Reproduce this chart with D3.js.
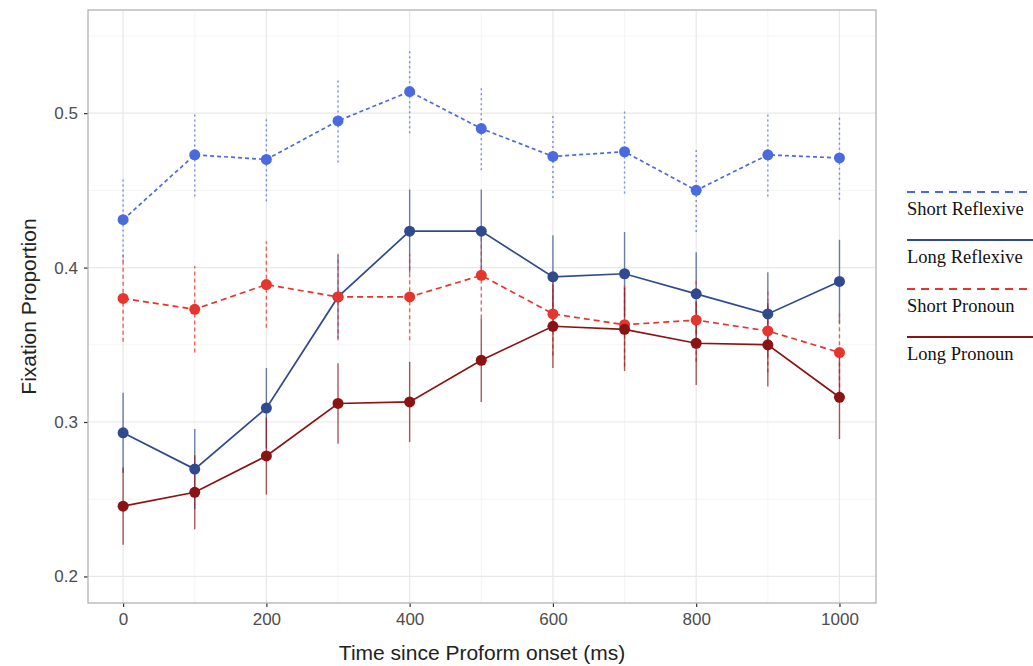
<!DOCTYPE html>
<html>
<head>
<meta charset="utf-8">
<script src="https://cdn.jsdelivr.net/npm/d3@7"></script>
<style>
  body { margin: 0; background: #fff; }
  #chart { width: 1033px; height: 666px; }
  .tick text { font-family: "Liberation Sans", Arial, sans-serif; fill: #4d4d4d; }
</style>
</head>
<body>
<div id="chart"></div>
<script>
// Data
var times = [0, 100, 200, 300, 400, 500, 600, 700, 800, 900, 1000];
var seriesNames = ["Short Reflexive", "Long Reflexive", "Short Pronoun", "Long Pronoun"];
var shortReflexive = [0.431, 0.473, 0.470, 0.495, 0.514, 0.490, 0.472, 0.475, 0.450, 0.473, 0.471];
var longReflexive  = [0.293, 0.2695, 0.309, 0.381, 0.4236, 0.4236, 0.394, 0.396, 0.383, 0.370, 0.391];
var shortPronoun   = [0.380, 0.373, 0.389, 0.381, 0.381, 0.395, 0.370, 0.363, 0.366, 0.359, 0.345];
var longPronoun    = [0.2455, 0.2545, 0.278, 0.312, 0.313, 0.340, 0.362, 0.360, 0.351, 0.350, 0.316];
var shortReflexiveSe = [0.027, 0.027, 0.027, 0.027, 0.027, 0.027, 0.027, 0.027, 0.027, 0.027, 0.027];
var longReflexiveSe  = [0.026, 0.026, 0.026, 0.027, 0.027, 0.027, 0.027, 0.027, 0.027, 0.027, 0.027];
var shortPronounSe   = [0.028, 0.028, 0.028, 0.028, 0.028, 0.028, 0.027, 0.027, 0.027, 0.027, 0.027];
var longPronounSe    = [0.025, 0.024, 0.025, 0.026, 0.026, 0.027, 0.027, 0.027, 0.027, 0.027, 0.027];
var xTicks = [0, 200, 400, 600, 800, 1000];
var yTicks = [0.2, 0.3, 0.4, 0.5];

var width = 1033, height = 666;
var panel = {left: 88, top: 10, right: 876, bottom: 603};

var svg = d3.select("#chart").append("svg")
    .attr("width", width)
    .attr("height", height);

var x = d3.scaleLinear().domain([-49, 1051]).range([panel.left, panel.right]);
var y = d3.scaleLinear().domain([0.1828, 0.5668]).range([panel.bottom, panel.top]);

var colors = ["#4a6be0", "#2f4a8e", "#e5352d", "#8a1414"];
var lineDash = ["4,3", null, "6,4", null];
var barDash = ["2,3", null, "4,3", null];
var values = [shortReflexive, longReflexive, shortPronoun, longPronoun];
var ses = [shortReflexiveSe, longReflexiveSe, shortPronounSe, longPronounSe];

var series = seriesNames.map(function (name, i) {
    return {
        name: name, color: colors[i], dash: lineDash[i], barDash: barDash[i],
        points: times.map(function (t, j) { return {t: t, v: values[i][j], se: ses[i][j]}; })
    };
});

// grid
var grid = svg.append("g");
d3.range(0.25, 0.56, 0.1).forEach(function (v) {
    grid.append("line").attr("x1", panel.left).attr("x2", panel.right)
        .attr("y1", y(v)).attr("y2", y(v)).attr("stroke", "#f3f3f3").attr("stroke-width", 0.8);
});
[100, 300, 500, 700, 900].forEach(function (v) {
    grid.append("line").attr("y1", panel.top).attr("y2", panel.bottom)
        .attr("x1", x(v)).attr("x2", x(v)).attr("stroke", "#f3f3f3").attr("stroke-width", 0.8);
});
yTicks.forEach(function (v) {
    grid.append("line").attr("x1", panel.left).attr("x2", panel.right)
        .attr("y1", y(v)).attr("y2", y(v)).attr("stroke", "#e8e8e8").attr("stroke-width", 1.2);
});
xTicks.forEach(function (v) {
    grid.append("line").attr("y1", panel.top).attr("y2", panel.bottom)
        .attr("x1", x(v)).attr("x2", x(v)).attr("stroke", "#e8e8e8").attr("stroke-width", 1.2);
});

// axes
var xAxis = svg.append("g")
    .attr("transform", "translate(0," + panel.bottom + ")")
    .call(d3.axisBottom(x).tickValues(xTicks).tickFormat(d3.format("d")).tickSize(4).tickPadding(6));
var yAxis = svg.append("g")
    .attr("transform", "translate(" + panel.left + ",0)")
    .call(d3.axisLeft(y).tickValues(yTicks).tickFormat(d3.format(".1f")).tickSize(4).tickPadding(6));
[xAxis, yAxis].forEach(function (a) {
    a.select(".domain").remove();
    a.selectAll(".tick line").attr("stroke", "#333").attr("stroke-width", 1.2);
    a.selectAll(".tick text").style("font-size", "17px");
});

// errorbars
var barG = svg.append("g");
series.forEach(function (s) {
    barG.selectAll(null).data(s.points).enter().append("line")
        .attr("x1", function (d) { return x(d.t); })
        .attr("x2", function (d) { return x(d.t); })
        .attr("y1", function (d) { return y(d.v - d.se); })
        .attr("y2", function (d) { return y(d.v + d.se); })
        .attr("stroke", s.color)
        .attr("stroke-opacity", s.barDash ? 0.75 : 0.7)
        .attr("stroke-width", 1.4)
        .attr("stroke-dasharray", s.barDash);
});

// lines
var line = d3.line().x(function (d) { return x(d.t); }).y(function (d) { return y(d.v); });
series.forEach(function (s) {
    svg.append("path").datum(s.points)
        .attr("d", line)
        .attr("fill", "none")
        .attr("stroke", s.color)
        .attr("stroke-width", 1.7)
        .attr("stroke-dasharray", s.dash);
});

// points
series.forEach(function (s) {
    svg.append("g").selectAll("circle").data(s.points).enter().append("circle")
        .attr("cx", function (d) { return x(d.t); })
        .attr("cy", function (d) { return y(d.v); })
        .attr("r", 5.5)
        .attr("fill", s.color);
});

// panel border
svg.append("rect")
    .attr("x", panel.left).attr("y", panel.top)
    .attr("width", panel.right - panel.left).attr("height", panel.bottom - panel.top)
    .attr("fill", "none").attr("stroke", "#b3b3b3").attr("stroke-width", 1.3);

// axis titles
svg.append("text")
    .attr("x", (panel.left + panel.right) / 2).attr("y", 660)
    .attr("text-anchor", "middle")
    .style("font-family", "Liberation Sans, Arial, sans-serif")
    .style("font-size", "21px").attr("fill", "#222")
    .text("Time since Proform onset (ms)");
svg.append("text")
    .attr("transform", "translate(36," + (panel.top + panel.bottom) / 2 + ") rotate(-90)")
    .attr("text-anchor", "middle")
    .style("font-family", "Liberation Sans, Arial, sans-serif")
    .style("font-size", "21px").attr("fill", "#222")
    .text("Fixation Proportion");

// legend
var legendTop = [192, 240, 289, 337];
var legend = svg.append("g");
series.forEach(function (s, i) {
    legend.append("line")
        .attr("x1", 907).attr("x2", 1033)
        .attr("y1", legendTop[i]).attr("y2", legendTop[i])
        .attr("stroke", s.color).attr("stroke-width", 2.2)
        .attr("stroke-dasharray", s.dash ? "8,6" : null);
    legend.append("text")
        .attr("x", 907).attr("y", legendTop[i] + 23)
        .style("font-family", "Liberation Serif, Times New Roman, serif")
        .style("font-size", "18.5px").attr("fill", "#111")
        .text(s.name);
});
</script>
</body>
</html>
